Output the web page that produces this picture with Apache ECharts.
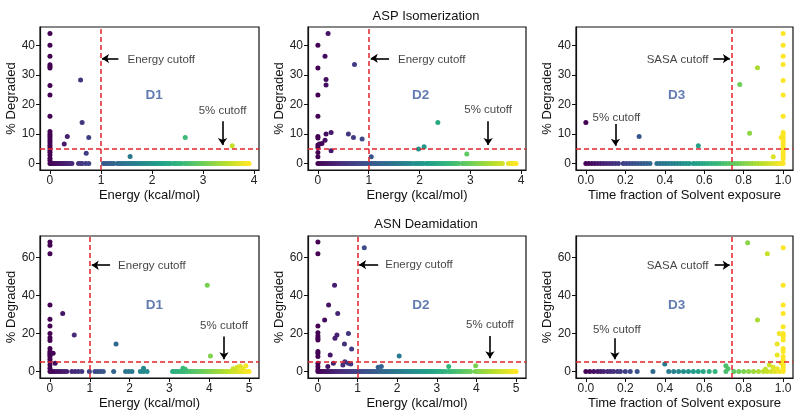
<!DOCTYPE html>
<html><head><meta charset="utf-8">
<script src="https://cdn.jsdelivr.net/npm/echarts@6/dist/echarts.min.js"></script>
<style>html,body{margin:0;padding:0;background:#fff}#c{width:800px;height:413px}</style>
</head><body><div id="c"></div>
<script>
// ---------- DATA ----------
const rowTitles = ['ASP Isomerization', 'ASN Deamidation'];
const energyTicks4 = [0, 1, 2, 3, 4];
const energyTicks5 = [0, 1, 2, 3, 4, 5];
const fractionTicks = [0, 0.2, 0.4, 0.6, 0.8, 1.0];
const yTicksTop = [0, 10, 20, 30, 40];
const yTicksBottom = [0, 20, 40, 60];

// ASP D1: points lying on 0 % degraded (x values) and other points [x, y]
const aspD1Zero = [0,0.03,0.06,0.09,0.12,0.15,0.18,0.21,0.24,0.27,0.3,0.33,0.36,0.4,0.43,0.56,0.6,0.63,0.7,0.76,1.05,1.09,1.13,1.17,1.21,1.25,1.32,1.36,1.4,1.44,1.48,1.52,1.56,1.6,1.64,1.68,1.72,1.76,1.8,1.84,1.88,1.92,1.96,2.0,2.04,2.08,2.12,2.16,2.2,2.24,2.28,2.32,2.36,2.42,2.46,2.5,2.54,2.58,2.64,2.68,2.72,2.76,2.8,2.84,2.88,2.92,2.96,3.0,3.04,3.08,3.12,3.16,3.2,3.24,3.28,3.32,3.36,3.4,3.44,3.48,3.52,3.56,3.6,3.64,3.68,3.72,3.76,3.8,3.84,3.88,3.9];
const aspD1Pts = [[0,44],[0,40],[0,36.3],[0,33.4],[0,32.8],[0,32.3],[0,26.4],[0,23.2],[0,16],[0,10.8],[0,10],[0,9.3],[0,8.6],[0,7.8],[0,7],[0,6.2],[0,5.4],[0,4.6],[0,3.8],[0,2.9],[0,1.8],[0,1],[0.6,28.3],[0.63,13.9],[0.34,9.1],[0.28,6.6],[0.76,8.8],[0.71,3.5],[1.57,2.4],[2.65,8.8],[3.57,6.0]];

const aspD2Zero = [0,0.04,0.08,0.12,0.16,0.2,0.24,0.28,0.32,0.36,0.4,0.44,0.48,0.52,0.56,0.6,0.64,0.68,0.72,0.76,0.8,0.84,0.88,0.92,0.96,1.0,1.04,1.08,1.12,1.16,1.2,1.24,1.28,1.32,1.36,1.4,1.44,1.48,1.52,1.56,1.6,1.64,1.68,1.72,1.76,1.8,1.85,1.91,1.95,1.99,2.03,2.07,2.13,2.17,2.21,2.25,2.29,2.33,2.37,2.41,2.45,2.49,2.53,2.57,2.61,2.65,2.69,2.73,2.77,2.84,2.88,2.92,2.96,3.0,3.04,3.08,3.12,3.16,3.2,3.24,3.28,3.32,3.36,3.4,3.44,3.48,3.52,3.56,3.6,3.63,3.75,3.79,3.83,3.87,3.9];
const aspD2Pts = [[0,40],[0,32.3],[0,23.2],[0,16],[0,9.1],[0,8.6],[0,6.3],[0,5.4],[0,3.7],[0,2.3],[0.2,44],[0.14,36.3],[0.16,28.4],[0.16,26.6],[0.72,33.5],[0.16,10],[0.26,10.5],[0.14,7.9],[0.08,6.8],[0.03,6.6],[0.26,4.3],[0.6,10],[0.7,8.8],[0.87,8.3],[1.05,2.3],[1.98,4.9],[2.09,5.7],[2.36,13.9],[2.93,3.2]];

const aspD3Zero = [0,0.015,0.03,0.045,0.06,0.075,0.09,0.105,0.12,0.135,0.15,0.165,0.19,0.205,0.22,0.235,0.25,0.265,0.28,0.295,0.31,0.325,0.36,0.375,0.39,0.405,0.42,0.435,0.45,0.465,0.48,0.495,0.51,0.525,0.545,0.56,0.575,0.59,0.605,0.62,0.635,0.65,0.665,0.68,0.695,0.71,0.725,0.74,0.755,0.77,0.785,0.8,0.815,0.83,0.845,0.86,0.875,0.89,0.905,0.92,0.935,0.95,0.965,0.98,0.99,1.0];
const aspD3Pts = [[0,13.9],[0.27,9.1],[0.57,6.0],[0.78,26.7],[0.87,32.4],[0.83,10.2],[0.95,2.3],[1,44],[1,40],[1,36.3],[1,33.5],[1,28.1],[1,23.2],[1,16],[1,10.5],[1,9.8],[1,9],[1,8.3],[1,7.5],[1,6.5],[1,5.5],[1,4.5],[1,3.5],[1,2.5],[1,1.5],[0.99,8.8]];

const asnD1Zero = [0,0.06,0.12,0.18,0.24,0.3,0.36,0.42,0.55,0.63,0.71,0.8,0.99,1.13,1.2,1.27,1.34,1.6,1.9,1.98,2.06,2.27,2.35,2.44,3.08,3.14,3.2,3.26,3.32,3.38,3.44,3.5,3.55,3.6,3.65,3.7,3.75,3.8,3.85,3.9,3.95,4.0,4.05,4.1,4.15,4.2,4.25,4.3,4.35,4.4,4.45,4.5,4.55,4.6,4.65,4.7,4.75,4.8,4.85,4.9,4.95,5.0];
const asnD1Pts = [[0,68.2],[0,66.5],[0,62.1],[0,35],[0,27.5],[0,24],[0,20.1],[0,17.8],[0,16.3],[0,12.2],[0,10.5],[0,9.6],[0,8.7],[0,7.9],[0,6.5],[0,5.2],[0,3.5],[0,1.7],[0.08,9.6],[0.13,4.4],[0.32,30.6],[0.61,19.2],[1.66,14.5],[3.95,45.5],[4.03,8.2],[2.35,1.7],[3.34,1.7],[3.4,1.2],[4.6,1.5],[4.7,2.2],[4.78,2.8],[4.85,1.5],[4.92,3.0]];

const asnD2Zero = [0,0.05,0.1,0.15,0.2,0.25,0.3,0.35,0.4,0.45,0.5,0.55,0.6,0.65,0.7,0.75,0.8,0.85,0.9,0.95,1.0,1.05,1.1,1.15,1.2,1.25,1.3,1.35,1.4,1.45,1.5,1.55,1.6,1.65,1.7,1.75,1.8,1.85,1.9,1.95,2.0,2.05,2.1,2.15,2.2,2.25,2.3,2.35,2.4,2.45,2.5,2.55,2.6,2.65,2.7,2.75,2.8,2.85,2.9,2.95,3.0,3.05,3.1,3.15,3.22,3.3,3.36,3.42,3.48,3.54,3.6,3.66,3.72,3.78,3.85,3.97,4.02,4.07,4.12,4.17,4.22,4.27,4.32,4.37,4.42,4.47,4.52,4.57,4.62,4.67,4.72,4.77,4.82,4.87,4.92,4.97,5.0];
const asnD2Pts = [[0,68.2],[0,62.1],[0,24],[0,20.5],[0,18.7],[0,17.5],[0,16.6],[0,10.5],[0,9.6],[0,7.9],[0,4.4],[0,2.6],[0,0.9],[1.17,65.2],[0.42,45.5],[0.27,35],[0.5,30.6],[0.17,27.1],[0.77,20.1],[0.48,19.2],[0.43,17.5],[0.67,14.5],[0.85,11.9],[0.31,8.7],[0.68,5.2],[0.77,4.4],[0.83,4.0],[0.39,4.4],[0.25,2.6],[0.63,3.5],[2.05,8.2],[1.52,2.3],[1.6,2.6],[3.3,2.6],[3.98,3.1]];

const asnD3Zero = [0,0.02,0.04,0.06,0.075,0.09,0.11,0.125,0.14,0.16,0.175,0.2,0.225,0.26,0.34,0.42,0.445,0.47,0.495,0.52,0.545,0.57,0.595,0.625,0.655,0.71,0.75,0.775,0.8,0.825,0.85,0.875,0.9,0.92,0.94,0.96,0.98,1.0];
const asnD3Pts = [[0.82,67.9],[0.92,62.1],[1,65.2],[1,45.5],[1,35],[1,30.6],[0.87,27.1],[1,23.6],[0.98,20.1],[1,20.1],[1,19.2],[1,18.3],[1,16.6],[0.97,14.5],[1,12.2],[0.97,8.7],[1,10.5],[1,7.9],[1,6.1],[1,5],[1,3.5],[1,2.2],[1,1.2],[0.4,4.0],[0.71,3.0],[0.72,1.5],[0.93,3.5],[0.95,2.2],[0.97,1.5],[0.91,1.2],[0.99,4.5]];

const cutoffs = { energy: 1, sasa: 0.74, degraded: 5 };

// ---------- CHART ----------
const viridis = ['#440154','#482878','#3e4989','#31688e','#26828e','#1f9e89','#35b779','#6ece58','#b5de2b','#fde725'];
const FONT = 'Liberation Sans, Arial, Helvetica, sans-serif';

const panels = [
  {g:[40,27,219,143], x:[-0.195,4.095], xt:energyTicks4, y:[-2.2,46.2], yt:yTicksTop, xn:'Energy (kcal/mol)', zero:aspD1Zero, pts:aspD1Pts, cmax:3.9, vc:cutoffs.energy,
   ct:'Energy cutoff', ctp:[2.18,35.1], ca:[[1.34,35.5],[1.02,35.5]], d:'D1', dp:[2.04,23], fp:[3.38,17.9], fa:[[3.38,14.3],[3.38,6.3]]},
  {g:[308,27,218,143], x:[-0.195,4.095], xt:energyTicks4, y:[-2.2,46.2], yt:yTicksTop, xn:'Energy (kcal/mol)', zero:aspD2Zero, pts:aspD2Pts, cmax:3.9, vc:cutoffs.energy,
   ct:'Energy cutoff', ctp:[2.24,35.1], ca:[[1.4,35.6],[1.04,35.6]], d:'D2', dp:[2.02,23], fp:[3.35,18.1], fa:[[3.35,14.3],[3.35,6.3]]},
  {g:[576,27,217,143], x:[-0.05,1.05], xt:fractionTicks, y:[-2.2,46.2], yt:yTicksTop, xn:'Time fraction of Solvent exposure', zero:aspD3Zero, pts:aspD3Pts, cmax:1, vc:cutoffs.sasa, frac:true,
   ct:'SASA cutoff', ctp:[0.465,35.1], ca:[[0.646,35.5],[0.73,35.5]], d:'D3', dp:[0.46,23], fp:[0.155,15.6], fa:[[0.15,13.4],[0.15,6.0]]},
  {g:[40,236,219,142], x:[-0.25,5.25], xt:energyTicks5, y:[-3.4,71.4], yt:yTicksBottom, xn:'Energy (kcal/mol)', zero:asnD1Zero, pts:asnD1Pts, cmax:5, vc:cutoffs.energy,
   ct:'Energy cutoff', ctp:[2.56,55.6], ca:[[1.51,56],[1.05,56]], d:'D1', dp:[2.62,35], fp:[4.37,24], fa:[[4.37,18.4],[4.37,6.5]]},
  {g:[308,236,218,142], x:[-0.25,5.25], xt:energyTicks5, y:[-3.4,71.4], yt:yTicksBottom, xn:'Energy (kcal/mol)', zero:asnD2Zero, pts:asnD2Pts, cmax:5, vc:cutoffs.energy,
   ct:'Energy cutoff', ctp:[2.55,56], ca:[[1.52,56.3],[1.04,56.3]], d:'D2', dp:[2.6,35], fp:[4.34,24.5], fa:[[4.34,18.7],[4.34,7]]},
  {g:[576,236,217,142], x:[-0.05,1.05], xt:fractionTicks, y:[-3.4,71.4], yt:yTicksBottom, xn:'Time fraction of Solvent exposure', zero:asnD3Zero, pts:asnD3Pts, cmax:1, vc:cutoffs.sasa, frac:true,
   ct:'SASA cutoff', ctp:[0.465,55.6], ca:[[0.653,56],[0.729,56]], d:'D3', dp:[0.46,35], fp:[0.157,21.9], fa:[[0.147,17.5],[0.147,6.5]]}
];

const grid = [], xAxis = [], yAxis = [], series = [], visualMap = [];
const red = '#e0262c';
panels.forEach((p, i) => {
  grid.push({left:p.g[0], top:p.g[1], width:p.g[2], height:p.g[3], show:true, borderColor:'#111', borderWidth:1.2, backgroundColor:'transparent'});
  const fmt = p.frac ? (v => Number(v).toFixed(1)) : (v => String(Math.round(v)));
  xAxis.push({type:'value', gridIndex:i, min:p.x[0], max:p.x[1], name:p.xn, nameLocation:'middle', nameGap:19,
    nameTextStyle:{fontFamily:FONT, fontSize:13, color:'#111'},
    axisLine:{show:true, onZero:false, lineStyle:{color:'#111', width:1.2}},
    axisTick:{show:true, length:4, customValues:p.xt, lineStyle:{color:'#111', width:1}},
    axisLabel:{show:true, customValues:p.xt, formatter:fmt, margin:5, fontFamily:FONT, fontSize:12, color:'#222'},
    splitLine:{show:false}});
  yAxis.push({type:'value', gridIndex:i, min:p.y[0], max:p.y[1], name:'% Degraded', nameLocation:'middle', nameGap:20,
    nameTextStyle:{fontFamily:FONT, fontSize:13, color:'#111'},
    axisLine:{show:true, onZero:false, lineStyle:{color:'#111', width:1.2}},
    axisTick:{show:true, length:4, customValues:p.yt, lineStyle:{color:'#111', width:1}},
    axisLabel:{show:true, customValues:p.yt, margin:5, fontFamily:FONT, fontSize:12, color:'#222'},
    splitLine:{show:false}});
  const data = p.zero.map(x => [x, 0]).concat(p.pts);
  const si = series.length;
  series.push({type:'scatter', xAxisIndex:i, yAxisIndex:i, data:data, symbolSize:5, itemStyle:{opacity:1},
    silent:true, animation:false, z:2});
  visualMap.push({type:'continuous', show:false, seriesIndex:si, dimension:0, min:0, max:p.cmax, inRange:{color:viridis}});
  // cutoff lines and arrows
  series.push({type:'line', xAxisIndex:i, yAxisIndex:i, data:[], silent:true, animation:false,
    markLine:{silent:true, animation:false, label:{show:false}, symbol:['none','none'], z:3,
      data:[
        {xAxis:p.vc, lineStyle:{color:red, type:[5,3], width:1.5}},
        {yAxis:cutoffs.degraded, lineStyle:{color:red, type:[5,3], width:1.5}},
        [{coord:p.ca[0], symbol:'none', lineStyle:{color:'#000', type:'solid', width:1.6}}, {coord:p.ca[1], symbol:'arrow', symbolSize:[7,7]}],
        [{coord:p.fa[0], symbol:'none', lineStyle:{color:'#000', type:'solid', width:1.6}}, {coord:p.fa[1], symbol:'arrow', symbolSize:[7,7]}]
      ]}});
  // text annotations
  series.push({type:'scatter', xAxisIndex:i, yAxisIndex:i, symbolSize:0, silent:true, animation:false, z:4,
    label:{show:true, position:'inside', fontFamily:FONT, fontSize:11.5, color:'#111', formatter:pp => pp.name},
    data:[
      {name:p.ct, value:p.ctp},
      {name:'5% cutoff', value:p.fp},
      {name:p.d, value:p.dp, label:{fontSize:13.5, fontWeight:'bold', color:'#3b5b9e'}}
    ]});
});

const chart = echarts.init(document.getElementById('c'), null, {renderer:'canvas'});
chart.setOption({
  backgroundColor:'#fff',
  animation:false,
  title:[
    {text:rowTitles[0], left:421, top:5, textAlign:'center', textStyle:{fontFamily:FONT, fontSize:13, fontWeight:'normal', color:'#111'}},
    {text:rowTitles[1], left:421, top:213, textAlign:'center', textStyle:{fontFamily:FONT, fontSize:13, fontWeight:'normal', color:'#111'}}
  ],
  grid, xAxis, yAxis, series, visualMap
});
</script>
</body></html>
